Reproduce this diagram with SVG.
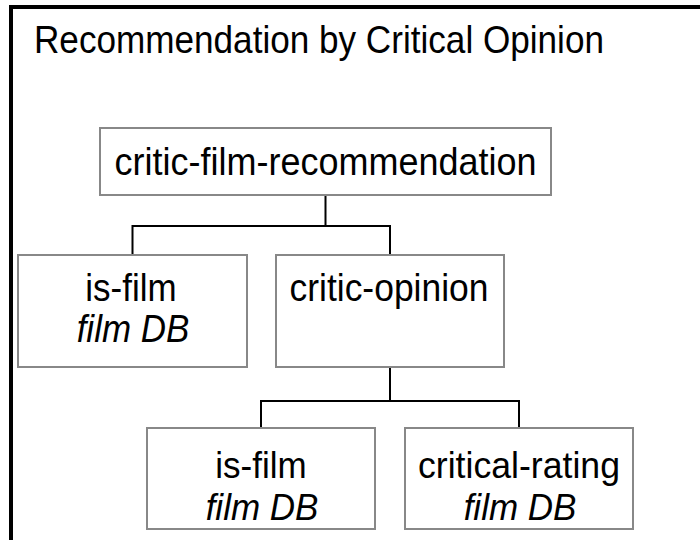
<svg xmlns="http://www.w3.org/2000/svg" width="700" height="540" viewBox="0 0 700 540">
<style>
text { font-family: "Liberation Sans", Arial, sans-serif; fill: #000; font-size: 35px; }
.n { text-anchor: middle; }
.i { font-style: italic; }
.box { fill: #fff; stroke: #888; stroke-width: 2; }
.c { fill: none; stroke: #000; stroke-width: 2; }
</style>
<rect width="700" height="540" fill="#fff"/>
<path d="M11 545 V7 H705" fill="none" stroke="#000" stroke-width="4"/>
<text transform="translate(34 53) scale(1 1.1)" textLength="570" lengthAdjust="spacingAndGlyphs">Recommendation by Critical Opinion</text>
<g id="connectors">
<path class="c" d="M325.5 195 V226 M132.5 226 H390 M132.5 225 V255 M390 225 V255"/>
<path class="c" d="M390 367 V401 M261 401 H519 M261 400 V428 M519 400 V428"/>
</g>
<g id="n1">
<rect class="box" x="100" y="128" width="451" height="67"/>
<text class="n" transform="translate(325.5 175) scale(1 1.12)" textLength="422" lengthAdjust="spacingAndGlyphs">critic-film-recommendation</text>
</g>
<g id="n2">
<rect class="box" x="18" y="255" width="229" height="112"/>
<text class="n" transform="translate(131 301) scale(1 1.12)">is-film</text>
<text class="n i" transform="translate(133 342) scale(1 1.12)">film DB</text>
</g>
<g id="n3">
<rect class="box" x="276" y="255" width="228" height="112"/>
<text class="n" transform="translate(389 301) scale(1 1.12)" textLength="199" lengthAdjust="spacingAndGlyphs">critic-opinion</text>
</g>
<g id="n4">
<rect class="box" x="147" y="428" width="228" height="101"/>
<text class="n" transform="translate(261 478) scale(1 1.06)">is-film</text>
<text class="n i" transform="translate(262 520) scale(1 1.06)">film DB</text>
</g>
<g id="n5">
<rect class="box" x="405" y="428" width="228" height="101"/>
<text class="n" transform="translate(519 478) scale(1 1.06)" textLength="202" lengthAdjust="spacingAndGlyphs">critical-rating</text>
<text class="n i" transform="translate(520 520) scale(1 1.06)">film DB</text>
</g>
</svg>
